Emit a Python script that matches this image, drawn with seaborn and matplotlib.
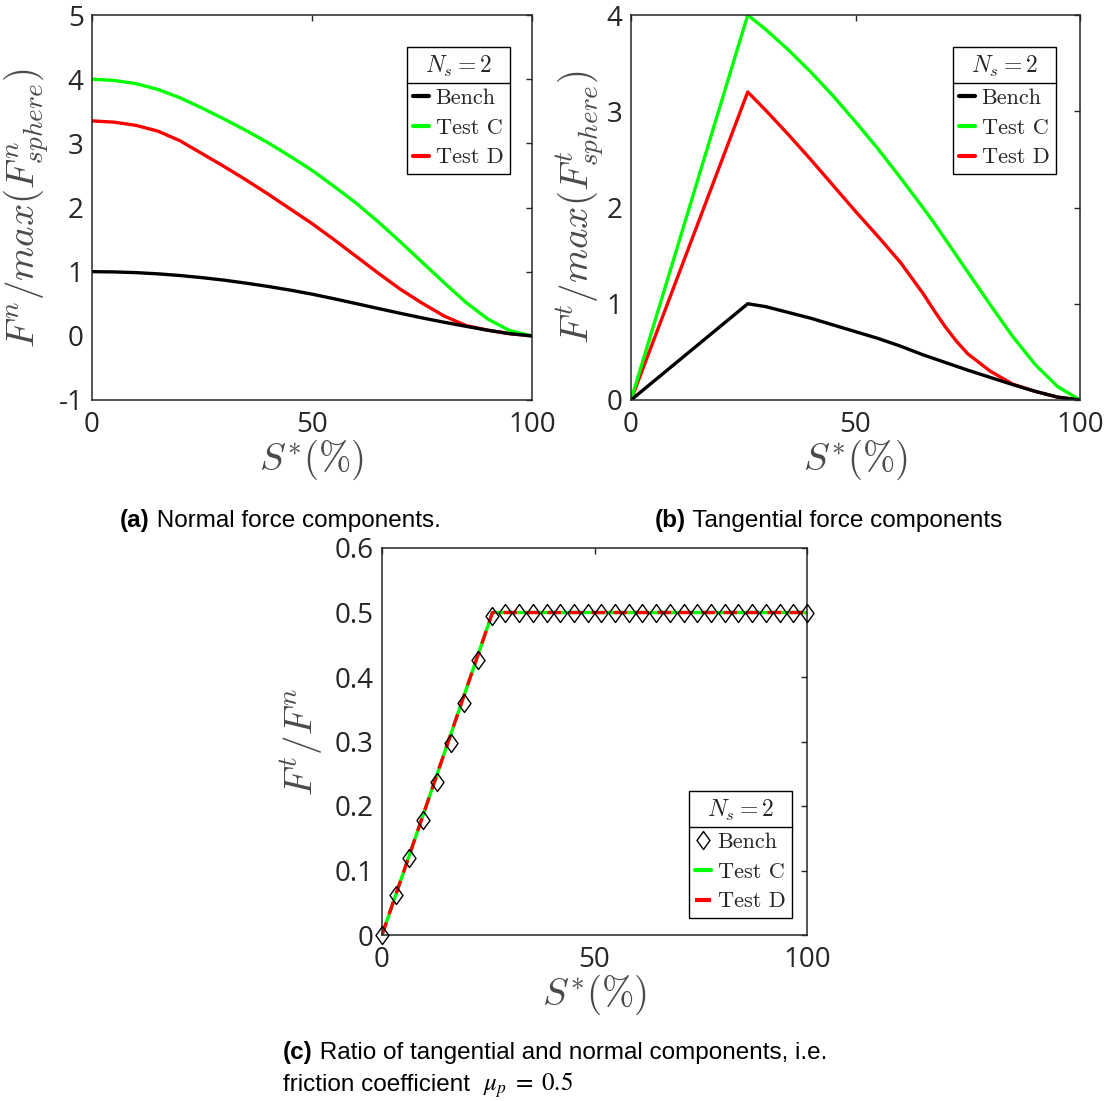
import matplotlib
matplotlib.use("Agg")
import matplotlib.pyplot as plt
from matplotlib.lines import Line2D
import numpy as np
import pandas as pd
import seaborn as sns

# ---------------- data ----------------
# (a) normal force components, normalised by max sphere force
s_a = [0, 5, 10, 15, 20, 25, 30, 35, 40, 45, 50, 55, 60, 65, 70, 75, 80, 85, 90, 95, 100]
bench_a = [1.000, 0.996, 0.985, 0.966, 0.940, 0.907, 0.868, 0.821, 0.770, 0.713, 0.650,
           0.578, 0.503, 0.427, 0.352, 0.280, 0.212, 0.148, 0.087, 0.033, 0.0]
testc_a = [4.00, 3.98, 3.93, 3.84, 3.71, 3.55, 3.38, 3.20, 3.01, 2.80, 2.58,
           2.33, 2.07, 1.78, 1.47, 1.15, 0.83, 0.52, 0.26, 0.08, 0.0]
testd_a = [3.35, 3.33, 3.28, 3.19, 3.04, 2.84, 2.64, 2.43, 2.21, 1.98, 1.75,
           1.50, 1.24, 0.98, 0.73, 0.51, 0.31, 0.16, 0.087, 0.033, 0.0]

# (b) tangential force components
s_b = [0, 26, 30, 35, 40, 45, 50, 55, 60, 65, 67.5, 70, 72.5, 75, 80, 85, 90, 95, 100]
bench_b = [0.0, 1.00, 0.97, 0.91, 0.85, 0.78, 0.71, 0.64, 0.56, 0.47, 0.43, 0.39, 0.35, 0.31,
           0.235, 0.16, 0.09, 0.03, 0.0]
testc_b = [0.0, 4.00, 3.85, 3.64, 3.41, 3.16, 2.89, 2.61, 2.31, 2.00, 1.84, 1.67, 1.50, 1.33,
           0.99, 0.66, 0.37, 0.14, 0.0]
testd_b = [0.0, 3.20, 3.01, 2.76, 2.50, 2.23, 1.96, 1.70, 1.43, 1.11, 0.93, 0.76, 0.61, 0.48,
           0.30, 0.165, 0.09, 0.03, 0.0]

# (c) ratio Ft/Fn (friction coefficient)
s_c_bench = [0.0, 3.23, 6.45, 9.68, 12.90, 16.13, 19.35, 22.58, 25.81, 29.03, 32.26,
             35.48, 38.71, 41.94, 45.16, 48.39, 51.61, 54.84, 58.06, 61.29, 64.52,
             67.74, 70.97, 74.19, 77.42, 80.65, 83.87, 87.10, 90.32, 93.55, 96.77, 100.0]
ratio_bench = [0.0, 0.062, 0.120, 0.178, 0.237, 0.298, 0.360, 0.426, 0.495, 0.5, 0.5,
               0.5, 0.5, 0.5, 0.5, 0.5, 0.5, 0.5, 0.5, 0.5, 0.5,
               0.5, 0.5, 0.5, 0.5, 0.5, 0.5, 0.5, 0.5, 0.5, 0.5, 0.5]
s_c_test = [0, 26, 100]
ratio_testc = [0.0, 0.5, 0.5]
ratio_testd = [0.0, 0.5, 0.5]

series_names = ["Bench", "Test C", "Test D"]
x_ticks = [0, 50, 100]
y_ticks_a = [-1, 0, 1, 2, 3, 4, 5]
y_ticks_b = [0, 1, 2, 3, 4]
y_ticks_c = [0, 0.1, 0.2, 0.3, 0.4, 0.5, 0.6]
y_ticklabels_c = ["0", "0.1", "0.2", "0.3", "0.4", "0.5", "0.6"]

# ---------------- style ----------------
sns.set_theme(style="white")
plt.rcParams["font.family"] = ["Open Sans", "DejaVu Sans"]
plt.rcParams["mathtext.fontset"] = "cm"
plt.rcParams["axes.unicode_minus"] = False

colors = {"Bench": "#000000", "Test C": "#00ff00", "Test D": "#ff0000"}
axis_grey = "#262626"
label_grey = "#4a4a4a"
LW = 2.4
DASH = (0, (4, 2.6))
# upright diamond, a little narrower than tall
DIAMOND = [(0, 1), (0.72, 0), (0, -1), (-0.72, 0), (0, 1)]

W, H = 1117, 1101
fig = plt.figure(figsize=(W / 100, H / 100), dpi=100)


def px_axes(x0, x1, y0, y1):
    return fig.add_axes([x0 / W, 1 - y1 / H, (x1 - x0) / W, (y1 - y0) / H])


ax_a = px_axes(92, 532, 15, 400)
ax_b = px_axes(631, 1080, 15, 400)
ax_c = px_axes(382, 807, 548, 935)


def style_axes(ax, yticks, ylim):
    ax.set_xlim(0, 100)
    ax.set_ylim(*ylim)
    ax.set_xticks(x_ticks)
    ax.set_yticks(yticks)
    ax.tick_params(direction="in", length=4.5, width=1.0, top=True, right=True,
                   colors=axis_grey, labelsize=20)
    ax.tick_params(axis="x", pad=8)
    ax.tick_params(axis="y", pad=6)
    for sp in ax.spines.values():
        sp.set_visible(True)
        sp.set_color(axis_grey)
        sp.set_linewidth(1.1)
    ax.set_facecolor("white")


def long_frame(x, cols):
    rows = []
    for name, vals in zip(series_names, cols):
        for xi, yi in zip(x, vals):
            rows.append({"s": xi, "v": yi, "series": name})
    return pd.DataFrame(rows)


line_kw = dict(estimator=None, sort=False, linewidth=LW, legend=False,
               solid_joinstyle="round", solid_capstyle="round")

# (a)
df_a = long_frame(s_a, [bench_a, testc_a, testd_a])
sns.lineplot(data=df_a, x="s", y="v", hue="series", hue_order=series_names[::-1],
             palette=colors, ax=ax_a, **line_kw)
style_axes(ax_a, y_ticks_a, (-1, 5))

# (b)
df_b = long_frame(s_b, [bench_b, testc_b, testd_b])
sns.lineplot(data=df_b, x="s", y="v", hue="series", hue_order=series_names[::-1],
             palette=colors, ax=ax_b, **line_kw)
style_axes(ax_b, y_ticks_b, (0, 4))

# (c)
sns.lineplot(x=s_c_test, y=ratio_testc, color=colors["Test C"], linewidth=LW,
             estimator=None, ax=ax_c)
sns.lineplot(x=s_c_test, y=ratio_testd, color=colors["Test D"], linewidth=LW,
             linestyle=DASH, estimator=None, ax=ax_c)
sns.lineplot(x=s_c_bench, y=ratio_bench, linestyle="none", marker=DIAMOND, markersize=13,
             markerfacecolor="none", markeredgecolor="black", markeredgewidth=1.0,
             estimator=None, ax=ax_c, zorder=5, clip_on=False)
style_axes(ax_c, y_ticks_c, (0, 0.6))
ax_c.set_yticklabels(y_ticklabels_c)

# axis labels
lab_kw = dict(fontsize=28, color=label_grey)
for ax, yl, ylx in [(ax_a, r"$F^n/max(F^n_{sphere})$", -0.091),
                    (ax_b, r"$F^t/max(F^t_{sphere})$", -0.056),
                    (ax_c, r"$F^t/F^n$", -0.134)]:
    ax.set_xlabel(r"$S^{*}(\%)$", **lab_kw)
    ax.set_ylabel(yl, **lab_kw)
    ax.yaxis.set_label_coords(ylx, 0.5)
    ax.xaxis.set_label_coords(0.5, -0.098)

# legends
leg_prop = {"family": "cmr10", "size": 16}


def line_handle(name, ls="-"):
    return Line2D([], [], color=colors[name], lw=LW + 0.6, ls=ls)


def boxed_legend(ax, handles, loc, anchor):
    leg = ax.legend(handles, series_names, title=r"$N_s = 2$", loc=loc,
                    bbox_to_anchor=anchor, borderaxespad=0, frameon=True,
                    fancybox=False, framealpha=1, edgecolor="black", prop=leg_prop,
                    title_fontsize=17, handlelength=0.7, handletextpad=0.3,
                    labelspacing=0.45, borderpad=0.3)
    leg.get_frame().set_linewidth(1.0)
    return leg


legs = []
legs.append(boxed_legend(ax_a, [line_handle(n) for n in series_names], "upper right", (0.95, 0.917)))
legs.append(boxed_legend(ax_b, [line_handle(n) for n in series_names], "upper right", (0.9465, 0.917)))
bench_marker = Line2D([], [], ls="none", marker=DIAMOND, markersize=13, markerfacecolor="none",
                      markeredgecolor="black", markeredgewidth=1.0)
legs.append(boxed_legend(ax_c, [bench_marker, line_handle("Test C"),
                                line_handle("Test D", DASH)],
                         "lower right", (0.9647, 0.044)))

# captions: pieces laid out left to right on a shared baseline
cap_font = "Liberation Sans"
cap_size = 17.5
fig.canvas.draw()
renderer = fig.canvas.get_renderer()


def caption_pieces(x, y, pieces):
    cur = x
    for txt, kw in pieces:
        t = fig.text(cur / W, 1 - y / H, txt, fontsize=cap_size, family=cap_font,
                     va="baseline", ha="left", color="black", **kw)
        cur = t.get_window_extent(renderer).x1


bold = {"fontweight": "bold"}
caption_pieces(120, 527, [("(a)", bold), (" Normal force components.", {})])
caption_pieces(655, 527, [("(b)", bold), (" Tangential force components", {})])
caption_pieces(283, 1059, [("(c)", bold), (" Ratio of tangential and normal components, i.e.", {})])
fig.text(283 / W, 1 - 1091 / H, "friction coefficient", fontsize=cap_size, family=cap_font,
         va="baseline", ha="left", color="black")
fig.text(483 / W, 1 - 1091 / H, r"$\mu_p\;=\;0.5$", fontsize=cap_size + 0.5,
         va="baseline", ha="left", color="black", math_fontfamily="stix")

# separator between legend title and entries
fig.canvas.draw()
for leg in legs:
    fb = leg.get_frame().get_window_extent(renderer)
    tb = leg.get_title().get_window_extent(renderer)
    y = tb.y0 - 4
    fig.add_artist(Line2D([fb.x0 / W, fb.x1 / W], [y / H, y / H], color="black", lw=1.0,
                          transform=fig.transFigure))

fig.savefig("out.png", dpi=100, facecolor="white")
